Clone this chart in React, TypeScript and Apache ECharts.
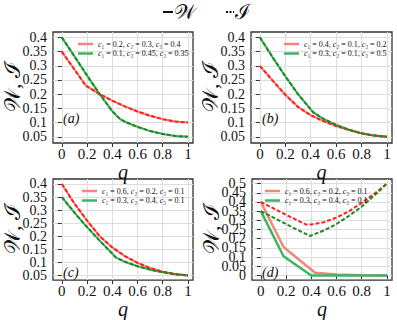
import React, { useEffect, useRef } from "react";
import * as echarts from "echarts";

// ---- data ----
const X_TICKS = [0, 0.2, 0.4, 0.6, 0.8, 1];
const Y_TICKS_ABC = [0.05, 0.1, 0.15, 0.2, 0.25, 0.3, 0.35, 0.4];
const Y_TICKS_D = [0, 0.05, 0.1, 0.15, 0.2, 0.25, 0.3, 0.35, 0.4, 0.45, 0.5];

const LEG_A = ["c1 = 0.2, c2 = 0.3, c3 = 0.4", "c1 = 0.1, c3 = 0.45, c3 = 0.35"];
const LEG_B = ["c1 = 0.4, c2 = 0.1, c3 = 0.2", "c1 = 0.3, c2 = 0.1, c3 = 0.5"];
const LEG_C = ["c1 = 0.6, c2 = 0.2, c3 = 0.1", "c1 = 0.3, c2 = 0.4, c3 = 0.1"];
const LEG_D = ["c1 = 0.6, c2 = 0.2, c3 = 0.1 ", "c1 = 0.3, c2 = 0.4, c3 = 0.1 "];

// panel (a)
const Q_A_RED = [0, 0.1, 0.19, 0.3, 0.4, 0.5, 0.6, 0.7, 0.8, 0.9, 1];
const V_A_RED = [0.35, 0.287, 0.23, 0.2, 0.177, 0.157, 0.139, 0.124, 0.112, 0.104, 0.1];
const Q_A_GREEN = [0, 0.1, 0.2, 0.3, 0.4, 0.46, 0.5, 0.6, 0.7, 0.8, 0.9, 1];
const V_A_GREEN = [0.4, 0.333, 0.266, 0.2, 0.14, 0.113, 0.103, 0.085, 0.07, 0.06, 0.053, 0.05];
// panel (b)
const Q_B_RED = [0, 0.1, 0.2, 0.3, 0.4, 0.5, 0.6, 0.7, 0.8, 0.9, 1];
const V_B_RED = [0.3, 0.248, 0.198, 0.155, 0.126, 0.105, 0.088, 0.074, 0.062, 0.054, 0.05];
const Q_B_GREEN = [0, 0.1, 0.2, 0.3, 0.42, 0.5, 0.6, 0.7, 0.8, 0.9, 1];
const V_B_GREEN = [0.4, 0.33, 0.263, 0.2, 0.136, 0.113, 0.092, 0.075, 0.062, 0.054, 0.05];
// panel (c)
const Q_C_RED = [0, 0.1, 0.2, 0.3, 0.4, 0.5, 0.6, 0.7, 0.8, 0.9, 1];
const V_C_RED = [0.4, 0.325, 0.26, 0.2, 0.157, 0.124, 0.098, 0.078, 0.064, 0.055, 0.05];
const Q_C_GREEN = [0, 0.1, 0.2, 0.3, 0.43, 0.5, 0.6, 0.7, 0.8, 0.9, 1];
const V_C_GREEN = [0.35, 0.29, 0.235, 0.183, 0.118, 0.102, 0.085, 0.072, 0.062, 0.054, 0.05];
// panel (d)
const Q_D_W_RED = [0, 0.18, 0.43, 0.6, 0.8, 1];
const V_D_W_RED = [0.4, 0.155, 0.015, 0.005, 0.001, 0];
const Q_D_W_GREEN = [0, 0.18, 0.4, 0.6, 0.8, 1];
const V_D_W_GREEN = [0.35, 0.105, 0, 0, 0, 0];
const Q_D_I_RED = [0, 0.1, 0.2, 0.36, 0.4, 0.5, 0.6, 0.7, 0.8, 0.9, 1];
const V_D_I_RED = [0.4, 0.365, 0.33, 0.277, 0.278, 0.29, 0.315, 0.35, 0.395, 0.445, 0.5];
const Q_D_I_GREEN = [0, 0.1, 0.2, 0.3, 0.39, 0.5, 0.6, 0.7, 0.8, 0.9, 1];
const V_D_I_GREEN = [0.35, 0.315, 0.28, 0.245, 0.215, 0.245, 0.28, 0.325, 0.375, 0.435, 0.5];

const SALMON = "#f4847c";
const RED = "#ff1f1f";
const LGREEN = "#3cb464";
const DGREEN = "#1e8a1e";
const SERIF = "Liberation Serif";

const zip = (q: number[], v: number[]) => q.map((x, i) => [x, v[i]]);

function App() {
  const ref = useRef<HTMLDivElement>(null);
  useEffect(() => {
    const chart = echarts.init(ref.current!, null, { renderer: "svg" });

    const grids = [
      { left: 50, top: 32, width: 143, height: 111 },
      { left: 251, top: 32, width: 141, height: 111 },
      { left: 50, top: 179, width: 143, height: 109 },
      { left: 252, top: 179, width: 140, height: 109 },
    ];
    const X_MIN = -0.07;
    const yRanges = [
      { min: 0.028, max: 0.419, ticks: Y_TICKS_ABC },
      { min: 0.028, max: 0.419, ticks: Y_TICKS_ABC },
      { min: 0.032, max: 0.419, ticks: Y_TICKS_ABC },
      { min: -0.025, max: 0.525, ticks: Y_TICKS_D },
    ];

    const fmt = (v: number) => String(Math.round(v * 100) / 100);

    const xAxes = grids.map((_, i) => ({
      type: "value",
      gridIndex: i,
      min: X_MIN,
      max: 1.04,
      axisLine: { show: false },
      axisTick: { show: true, length: 4, customValues: X_TICKS, lineStyle: { color: "#333" } },
      axisLabel: {
        customValues: X_TICKS,
        formatter: fmt,
        fontFamily: SERIF,
        fontSize: 15,
        color: "#111",
        margin: 3,
        showMinLabel: true,
        showMaxLabel: true,
      },
      splitLine: { show: true, lineStyle: { color: "#dedede", width: 1 } },
      name: "q",
      nameLocation: "middle",
      nameGap: 11,
      nameTextStyle: { fontFamily: SERIF, fontStyle: "italic", fontSize: 20, color: "#111" },
    }));

    const yAxes = grids.map((_, i) => ({
      type: "value",
      gridIndex: i,
      min: yRanges[i].min,
      max: yRanges[i].max,
      axisLine: { show: false },
      axisTick: { show: true, length: 4, customValues: yRanges[i].ticks, lineStyle: { color: "#333" } },
      axisLabel: { show: false, customValues: yRanges[i].ticks },
      splitLine: { show: true, lineStyle: { color: "#dedede", width: 1 } },
      name: "𝒲, ℐ",
      nameLocation: "middle",
      nameGap: 30,
      nameRotate: 90,
      nameTextStyle: { fontFamily: SERIF, fontSize: 22, color: "#111" },
    }));

    const solid = (name: string, i: number, q: number[], v: number[], color: string, width = 2) => ({
      name,
      type: "line",
      xAxisIndex: i,
      yAxisIndex: i,
      data: zip(q, v),
      symbol: "none",
      color,
      lineStyle: { color, width, type: "solid" },
      z: 2,
    });
    const dashed = (i: number, q: number[], v: number[], color: string) => ({
      type: "line",
      xAxisIndex: i,
      yAxisIndex: i,
      data: zip(q, v),
      symbol: "none",
      color,
      lineStyle: { color, width: 2, type: [4, 2] },
      z: 3,
    });

    const series = [
      solid(LEG_A[0], 0, Q_A_RED, V_A_RED, SALMON),
      solid(LEG_A[1], 0, Q_A_GREEN, V_A_GREEN, LGREEN),
      dashed(0, Q_A_RED, V_A_RED, RED),
      dashed(0, Q_A_GREEN, V_A_GREEN, DGREEN),
      solid(LEG_B[0], 1, Q_B_RED, V_B_RED, SALMON),
      solid(LEG_B[1], 1, Q_B_GREEN, V_B_GREEN, LGREEN),
      dashed(1, Q_B_RED, V_B_RED, RED),
      dashed(1, Q_B_GREEN, V_B_GREEN, DGREEN),
      solid(LEG_C[0], 2, Q_C_RED, V_C_RED, SALMON),
      solid(LEG_C[1], 2, Q_C_GREEN, V_C_GREEN, LGREEN),
      dashed(2, Q_C_RED, V_C_RED, RED),
      dashed(2, Q_C_GREEN, V_C_GREEN, DGREEN),
      solid(LEG_D[0], 3, Q_D_W_RED, V_D_W_RED, SALMON, 2.5),
      solid(LEG_D[1], 3, Q_D_W_GREEN, V_D_W_GREEN, LGREEN, 2.5),
      dashed(3, Q_D_I_RED, V_D_I_RED, RED),
      dashed(3, Q_D_I_GREEN, V_D_I_GREEN, DGREEN),
    ];

    const legFmt = (name: string) =>
      name
        .trim()
        .replace(/c1/g, "{i|c}₁")
        .replace(/c2/g, "{i|c}₂")
        .replace(/c3/g, "{i|c}₃");

    const legendAt = (data: string[], left: number, top: number) => ({
      data,
      left,
      top,
      orient: "vertical",
      icon: "rect",
      itemWidth: 15,
      itemHeight: 2.5,
      itemGap: 1.5,
      selectedMode: false,
      formatter: legFmt,
      textStyle: {
        fontFamily: SERIF,
        fontSize: 8,
        color: "#111",
        padding: [0, 0, 0, 0],
        rich: { i: { fontFamily: SERIF, fontSize: 8, fontStyle: "italic", color: "#111" } },
      },
    });

    const panelLabel = (txt: string, x: number, y: number) => ({
      type: "text",
      left: x,
      top: y,
      style: { text: txt, font: `italic 14px "${SERIF}"`, fill: "#111" },
    });

    const baseGraphic: any[] = [
      { type: "line", shape: { x1: 163, y1: 12, x2: 173, y2: 12 }, style: { stroke: "#111", lineWidth: 2 } },
      { type: "text", left: 174, top: 1, style: { text: "𝒲", font: `21px "${SERIF}"`, fill: "#111" } },
      {
        type: "line",
        shape: { x1: 226, y1: 12, x2: 234, y2: 12 },
        style: { stroke: "#111", lineWidth: 2, lineDash: [2, 1.5] },
      },
      { type: "text", left: 235, top: 1, style: { text: "ℐ", font: `21px "${SERIF}"`, fill: "#111" } },
      panelLabel("(a)", 63, 111),
      panelLabel("(b)", 262, 111),
      panelLabel("(c)", 63, 265),
      panelLabel("(d)", 262, 265),
    ];

    chart.setOption({
      animation: false,
      grid: grids.map((g) => ({ ...g, show: true, borderColor: "#333", borderWidth: 1.3, backgroundColor: "transparent" })),
      xAxis: xAxes,
      yAxis: yAxes,
      legend: [
        legendAt(LEG_A, 73, 35),
        legendAt(LEG_B, 279, 35),
        legendAt(LEG_C, 77, 182),
        legendAt(LEG_D, 260, 182),
      ],
      series,
      graphic: baseGraphic,
    });

    // y tick labels placed through the library's own scales
    const yLabels: any[] = [];
    yRanges.forEach((r, i) => {
      r.ticks.forEach((t) => {
        const p = chart.convertToPixel({ xAxisIndex: i, yAxisIndex: i } as any, [X_MIN, t]) as number[];
        yLabels.push({
          type: "text",
          x: p[0] - 6,
          y: p[1],
          style: {
            text: fmt(t),
            font: `14px "${SERIF}"`,
            fill: "#111",
            align: "right",
            verticalAlign: "middle",
            textAlign: "right",
            textVerticalAlign: "middle",
          },
        });
      });
    });
    chart.setOption({ graphic: [...baseGraphic, ...yLabels] }, { replaceMerge: ["graphic"] });

    return () => chart.dispose();
  }, []);
  return <div ref={ref} style={{ position: "absolute", left: 0, top: 0, width: 397, height: 320 }} />;
}

export default App;
